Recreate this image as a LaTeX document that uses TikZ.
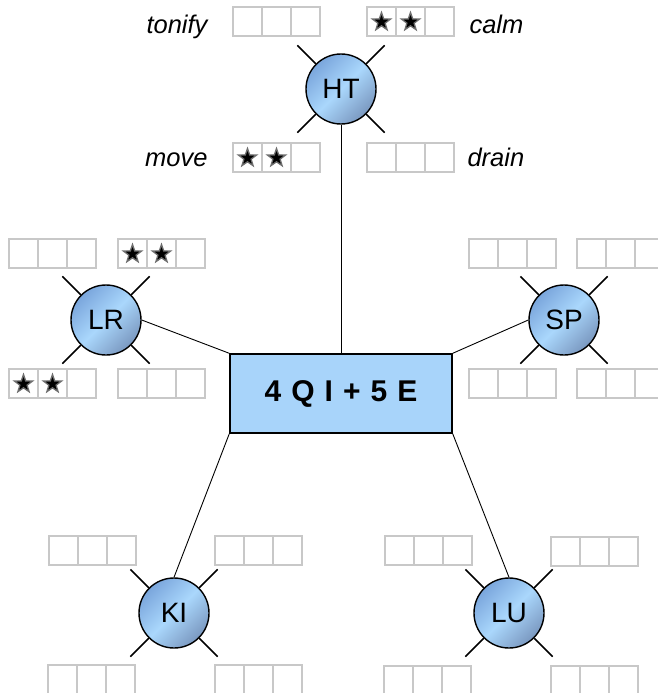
\documentclass[tikz,border=0pt]{standalone}
\usepackage{fontspec}
\setmainfont{Liberation Sans}
\usetikzlibrary{shapes.geometric}

\definecolor{boxblue}{RGB}{168,212,250}
\definecolor{balllight}{RGB}{170,215,252}
\definecolor{balldarkA}{RGB}{122,166,220}
\definecolor{balldarkB}{RGB}{122,152,192}
\definecolor{cellgray}{RGB}{200,200,200}
\definecolor{stargray}{RGB}{110,110,110}

\tikzset{
  organ/.style={circle, draw=black, line width=1.4pt, minimum size=70pt, inner sep=0pt,
    left color=balldarkA, right color=balldarkB, middle color=balllight, shading angle=45,
    font=\fontsize{28}{32}\selectfont},
  stub/.style={line width=1.5pt, black},
  link/.style={line width=0.9pt, black},
  center box/.style={draw=black, line width=1.4pt, fill=boxblue, minimum width=222pt,
    minimum height=79pt, inner sep=0pt, font=\fontsize{30}{34}\selectfont\bfseries},
  cellrow/.style={draw=cellgray, line width=2pt},
  starmark/.style={star, star points=5, star point ratio=2.5, fill=black, draw=stargray,
    line width=1.3pt, minimum size=19pt, inner sep=0pt},
  action/.style={font=\fontsize{25.5}{30}\selectfont\itshape}
}

% three-cell score row: top-left corner (x,y), number of stars, name
\newcommand{\scorerow}[4]{%
  \draw[cellrow] (#1,#2) rectangle ++(87,29);
  \draw[cellrow] (#1+29,#2) -- ++(0,29);
  \draw[cellrow] (#1+58,#2) -- ++(0,29);
  \ifnum#3>0 \node[starmark] (#4-s1) at (#1+14.5,#2+15) {};\fi
  \ifnum#3>1 \node[starmark] (#4-s2) at (#1+43.5,#2+15) {};\fi
}

\begin{document}
\begin{tikzpicture}[x=1pt,y=-1pt]
\useasboundingbox (0,0) rectangle (658,693);
\clip (0,0) rectangle (658,693);

% central formula box
\node[center box] (qi) at (341,393.5) {4\,\,Q\,\,I\,\,+\,\,5\,\,E};

% organ circles
\node[organ] (ht) at (341,89) {HT};
\node[organ] (lr) at (106,320) {LR};
\node[organ] (sp) at (564,320) {SP};
\node[organ] (ki) at (174,613) {KI};
\node[organ] (lu) at (509,613) {LU};

% short diagonal stubs on every circle
\foreach \o in {ht,lr,sp,ki,lu}{
  \foreach \a in {45,135,225,315}{
    \draw[stub] (\o.\a) -- ++(\a:26pt);
  }
}

% connectors to the formula box
\draw[link] (ht.south) -- (qi.north);
\draw[link] (lr.east) -- (qi.north west);
\draw[link] (sp.west) -- (qi.north east);
\draw[link] (ki.north) -- (qi.south west);
\draw[link] (lu.north) -- (qi.south east);

% score rows
\scorerow{233}{7}{0}{htA}
\scorerow{367}{7}{2}{htB}
\scorerow{233}{143}{2}{htC}
\scorerow{367}{143}{0}{htD}

\scorerow{9}{239}{0}{lrA}
\scorerow{118}{239}{2}{lrB}
\scorerow{9}{369}{2}{lrC}
\scorerow{118}{369}{0}{lrD}

\scorerow{469}{239}{0}{spA}
\scorerow{577}{239}{0}{spB}
\scorerow{469}{369}{0}{spC}
\scorerow{577}{369}{0}{spD}

\scorerow{49}{536}{0}{kiA}
\scorerow{215}{536}{0}{kiB}
\scorerow{48}{665}{0}{kiC}
\scorerow{215}{665}{0}{kiD}

\scorerow{385}{536}{0}{luA}
\scorerow{551}{537}{0}{luB}
\scorerow{384}{666}{0}{luC}
\scorerow{551}{666}{0}{luD}

% action labels
\node[action, anchor=base east] (tonify) at (211,34) {tonify};
\node[action, anchor=base west] (calm) at (466,34) {calm};
\node[action, anchor=base east] (move) at (211,166) {move};
\node[action, anchor=base west] (drain) at (464,166) {drain};
\end{tikzpicture}
\end{document}
